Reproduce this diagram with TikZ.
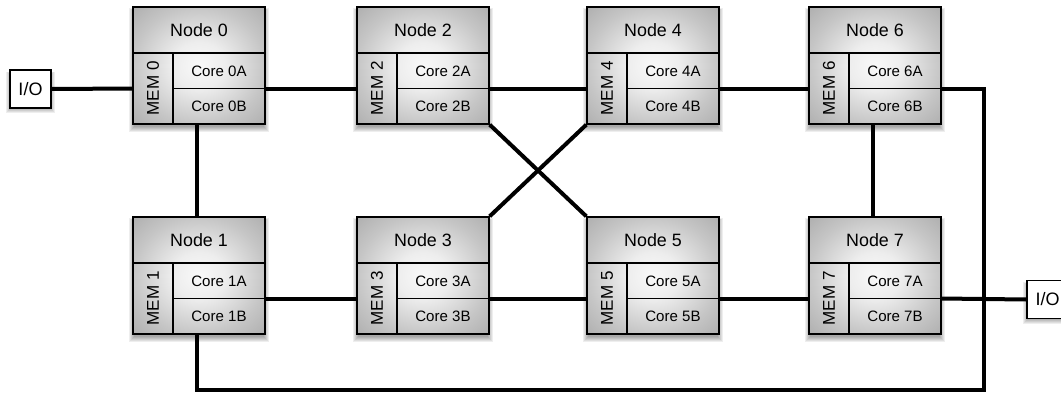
\documentclass[tikz,border=0pt]{standalone}
\usepackage{fontspec}
\setmainfont{Liberation Sans}
\usetikzlibrary{calc}

\pgfdeclarelayer{background}
\pgfsetlayers{background,main}

\pgfdeclareradialshading{nodeshade}{\pgfpoint{0bp}{0bp}}{%
  color(0bp)=(gray!5); color(10bp)=(gray!14); color(25bp)=(gray!45);
  color(35bp)=(gray!62); color(50bp)=(gray!62)}

\tikzset{
  link/.style={line width=3pt, line join=miter},
  nodebox/.style={draw, line width=1pt, shading=nodeshade,
    minimum width=99pt, minimum height=87.75pt, inner sep=0pt},
  divline/.style={line width=0.8pt},
  headtext/.style={font=\fontsize{13.4}{15}\selectfont, inner sep=0pt},
  coretext/.style={font=\fontsize{11.3}{13}\selectfont, inner sep=0pt},
  memtext/.style={font=\fontsize{12.8}{14}\selectfont, inner sep=0pt, rotate=90},
  iobox/.style={draw, line width=1pt, fill=white, minimum width=30.75pt,
    minimum height=28.5pt, inner sep=0pt, font=\fontsize{13.5}{15}\selectfont},
  softshadow/.style={fill=black, opacity=0.065},
}

% #1 name, #2 left edge, #3 top edge, #4 number
\newcommand\procnode[4]{%
  \foreach \s in {1,...,6}
    \fill[softshadow] (#2+2-\s,#3+4-0.5*\s) rectangle (#2+130+\s,#3+119+\s);
  \node[nodebox] (#1) at (#2+66,#3+58.5) {};
  \draw[divline] (#2,#3+46) -- (#2+132,#3+46);
  \draw[divline] (#2+40,#3+46) -- (#2+40,#3+117);
  \draw[divline] (#2+40,#3+81.5) -- (#2+132,#3+81.5);
  \node[headtext] (#1-title) at (#2+66,#3+23) {Node #4};
  \node[memtext] (#1-mem) at (#2+20,#3+81.5) {MEM #4};
  \node[coretext] (#1-a) at (#2+86,#3+64) {Core #4A};
  \node[coretext] (#1-b) at (#2+86,#3+99.5) {Core #4B};
  \coordinate (#1-w) at (#2,#3+81.5);
  \coordinate (#1-e) at (#2+132,#3+81.5);
  \coordinate (#1-n) at (#2+64,#3);
  \coordinate (#1-s) at (#2+64,#3+117);
}

% #1 name, #2 centre x, #3 centre y
\newcommand\iounit[3]{%
  \foreach \s in {1,...,5}
    \fill[softshadow] (#2-20.5+1-\s,#3-19+4-0.5*\s) rectangle (#2+20.5-1+\s,#3+19+\s);
  \node[iobox] (#1) at (#2,#3) {I/O};
}

\begin{document}
\begin{tikzpicture}[x=0.75pt,y=-0.75pt]
  \useasboundingbox (0,0) rectangle (1061,393);
  \clip (0,0) rectangle (1061,393);

  % processor nodes, upper and lower rows
  \procnode{n0}{133}{7}{0}
  \procnode{n2}{357}{7}{2}
  \procnode{n4}{587}{7}{4}
  \procnode{n6}{809}{7}{6}
  \procnode{n1}{133}{217}{1}
  \procnode{n3}{357}{217}{3}
  \procnode{n5}{587}{217}{5}
  \procnode{n7}{809}{217}{7}

  % I/O ports
  \iounit{ioa}{30.5}{89}
  \iounit{iob}{1047.5}{299.5}

  \coordinate (loop) at (984,389.5);

  % interconnect
  \begin{pgfonlayer}{background}
    \draw[link] (ioa.east) -- (n0-w);
    \draw[link] (n0-e) -- (n2-w);
    \draw[link] (n2-e) -- (n4-w);
    \draw[link] (n4-e) -- (n6-w);
    \draw[link] (n1-e) -- (n3-w);
    \draw[link] (n3-e) -- (n5-w);
    \draw[link] (n5-e) -- (n7-w);
    \draw[link] (n7-e) -- (iob.west);
    \draw[link] (n0-s) -- (n1-n);
    \draw[link] (n6-s) -- (n7-n);
    \draw[link] (n2.south east) -- (n5.north west);
    \draw[link] (n3.north east) -- (n4.south west);
    \draw[link] (n6-e) -| (loop) -| (n1-s);
  \end{pgfonlayer}
\end{tikzpicture}
\end{document}
